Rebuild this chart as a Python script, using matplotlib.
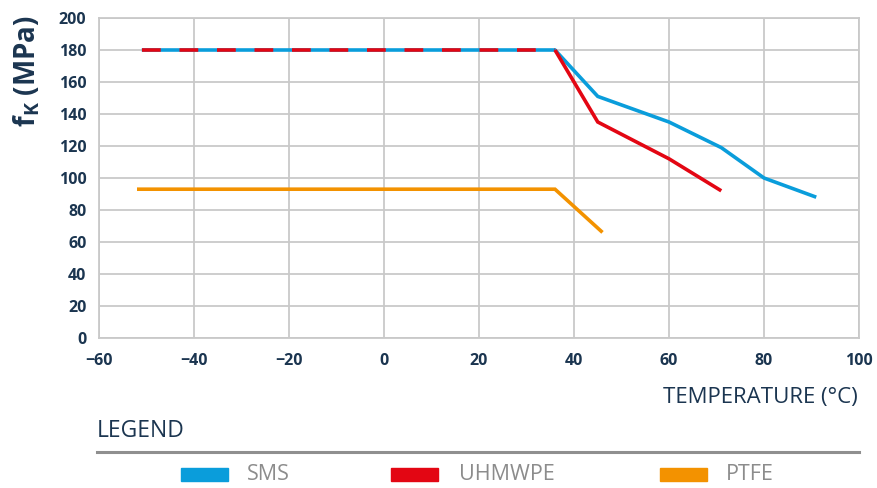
import matplotlib
matplotlib.use("Agg")
import matplotlib.pyplot as plt
from matplotlib.patches import Rectangle
from matplotlib.lines import Line2D

# Data
sms_x = [-51, 36, 45, 60, 71, 80, 91]
sms_y = [180, 180, 151, 135, 119, 100, 88]
uhm_x = [-51, 36, 45, 60, 71]
uhm_y = [180, 180, 135, 112, 92]
ptfe_x = [-52, 36, 46]
ptfe_y = [93, 93, 66]
xticks = [-60, -40, -20, 0, 20, 40, 60, 80, 100]
yticks = [0, 20, 40, 60, 80, 100, 120, 140, 160, 180, 200]
legend_labels = ["SMS", "UHMWPE", "PTFE"]

BLUE = "#0a9ddb"
RED = "#e30613"
ORANGE = "#f39200"
NAVY = "#1b3550"
GRID = "#c9c9c9"
LGRAY = "#8c8c8c"

plt.rcParams['font.family'] = ['Open Sans', 'DejaVu Sans']
plt.rcParams['mathtext.fontset'] = 'custom'
plt.rcParams['mathtext.rm'] = 'Open Sans:bold'
plt.rcParams['mathtext.bf'] = 'Open Sans:bold'

W, H = 877, 488
fig = plt.figure(figsize=(W/100, H/100), dpi=100)
ax = fig.add_axes([99/W, 1-338/H, (859-99)/W, (338-18)/H])

ax.set_xlim(-60, 100)
ax.set_ylim(0, 200)
ax.set_xticks(xticks)
ax.set_yticks(yticks)
ax.set_xticklabels(["\u2212" + str(-v) if v < 0 else str(v) for v in xticks])
ax.grid(True, color=GRID, linewidth=1.3)
ax.set_axisbelow(True)
for s in ax.spines.values():
    s.set_color(GRID)
    s.set_linewidth(1.3)
ax.tick_params(length=0, labelsize=11.5, labelcolor=NAVY)
for lab in ax.get_xticklabels() + ax.get_yticklabels():
    lab.set_fontweight('bold')
ax.tick_params(axis='x', pad=11)
ax.tick_params(axis='y', pad=9)

lw = 2.6
# PTFE
ax.plot(ptfe_x, ptfe_y, color=ORANGE, lw=lw, solid_capstyle='butt', solid_joinstyle='miter')
# SMS then UHMWPE dashed on top for the flat overlap
ax.plot(sms_x, sms_y, color=BLUE, lw=lw, solid_capstyle='butt', solid_joinstyle='miter')
ax.plot(uhm_x[1:], uhm_y[1:], color=RED, lw=lw, solid_capstyle='butt', solid_joinstyle='miter')
ax.plot(uhm_x[:2], uhm_y[:2], color=RED, lw=lw, linestyle=(0, (18/2.6*0.75, 18/2.6*0.75)),
        dash_capstyle='butt')

# Y label
fig.text(27/W, 1-71/H, r"f$_\mathregular{K}$ (MPa)", rotation=90, ha='center', va='center',
         fontsize=20, fontweight='bold', color=NAVY)
# X label
fig.text(858/W, 1-397/H, "TEMPERATURE (°C)", ha='right', va='center', fontsize=16, color=NAVY)

# Legend
fig.text(97/W, 1-431/H, "LEGEND", ha='left', va='center', fontsize=16.5, color=NAVY)
fig.add_artist(Line2D([97/W, 859/W], [1-452/H, 1-452/H], color="#8f8f8f", lw=2.2))
patch_x = [181, 391, 660]
text_x = [247, 459, 726]
colors = [BLUE, RED, ORANGE]
for lab, px, tx, c in zip(legend_labels, patch_x, text_x, colors):
    fig.add_artist(Rectangle((px/W, 1-481/H), 47/W, 13/H, color=c, transform=fig.transFigure))
    fig.text(tx/W, 1-474/H, lab, ha='left', va='center', fontsize=15.5, color=LGRAY)

fig.savefig("out.png", dpi=100)
